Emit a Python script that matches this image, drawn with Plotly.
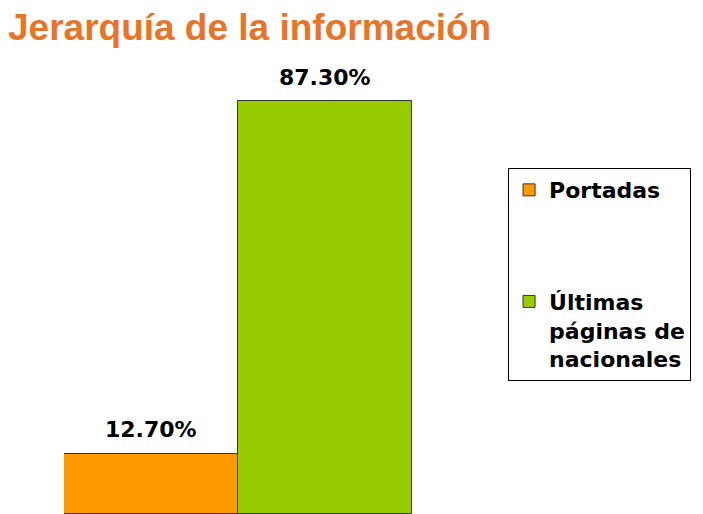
import plotly.graph_objects as go

categories = ['Portadas', 'Últimas páginas de nacionales']
legend_names = ['Portadas', 'Últimas<br>páginas de<br>nacionales']
values = [12.7, 87.3]
colors = ['#FF9900', '#99CC00']

fig = go.Figure()
for cat, name, val, col in zip(categories, legend_names, values, colors):
    fig.add_trace(go.Bar(
        x=[cat], y=[val], name='<b>' + name + '</b>',
        legendgroup=cat,
        marker=dict(color=col, line=dict(color='#333333', width=1)),
        width=1,
        hoverinfo='skip',
    ))
    # value label above each bar
    fig.add_annotation(
        x=cat, y=val, text='<b>%.2f%%</b>' % val, showarrow=False,
        yanchor='middle', yshift=24,
        font=dict(family='DejaVu Sans', size=22, color='black'),
    )

# page has an 8px body margin, so size the figure to the visible area
fig.update_layout(
    width=695, height=506,
    margin=dict(l=56, r=291, t=52, b=0),
    paper_bgcolor='white', plot_bgcolor='white',
    barmode='overlay', bargap=0,
    title=dict(text='<b>Jerarquía de la información</b>', xref='container', x=0,
               xanchor='left', yref='container', y=0.962, yanchor='middle',
               font=dict(family='Liberation Sans', size=37, color='#E8742A')),
    xaxis=dict(visible=False),
    yaxis=dict(visible=False, range=[0, 96]),
    legend=dict(x=1.276, xanchor='left', y=0.762, yanchor='top', valign='top',
                bordercolor='black', borderwidth=1, tracegroupgap=80,
                traceorder='grouped',
                font=dict(family='DejaVu Sans', size=22, color='black')),
    showlegend=True,
)

fig.write_html('out.html')
